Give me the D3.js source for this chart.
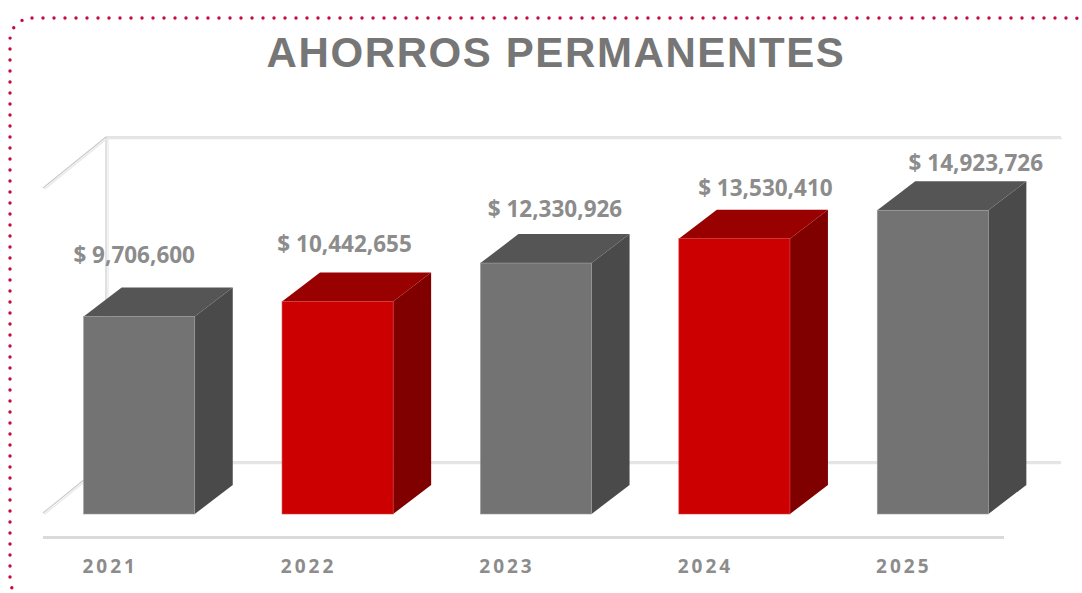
<!DOCTYPE html>
<html>
<head>
<meta charset="utf-8">
<script src="https://cdn.jsdelivr.net/npm/d3@7"></script>
<style>
  html, body { margin: 0; padding: 0; background: #ffffff; }
  svg { display: block; }
</style>
</head>
<body>
<svg id="chart" width="1082" height="593"></svg>
<script>
// ---------- DATA ----------
const title = "AHORROS PERMANENTES";
const categories = ["2021", "2022", "2023", "2024", "2025"];
const values = [9706600, 10442655, 12330926, 13530410, 14923726];
const valueLabels = ["$ 9,706,600", "$ 10,442,655", "$ 12,330,926", "$ 13,530,410", "$ 14,923,726"];
const barStyle = ["gray", "red", "gray", "red", "gray"];
const axisMax = 17100000;

// ---------- LAYOUT ----------
const W = 1082, H = 593;
const svg = d3.select("#chart");
const palette = {
  gray: { front: "#737373", top: "#555555", side: "#4a4a4a" },
  red:  { front: "#cc0000", top: "#990000", side: "#800000" }
};
const depthX = 38, depthY = -29;           // bar depth
const wallDX = 63, wallDY = -51;           // floor / left wall depth

const x = d3.scaleBand().domain(categories).range([40, 1032])
  .paddingInner(0.44).paddingOuter(0.22);
const y = d3.scaleLinear().domain([0, axisMax]).range([514, 166]);

// ---------- DOTTED FRAME ----------
svg.append("rect")
  .attr("x", 10).attr("y", 18).attr("width", 1086).attr("height", 583)
  .attr("rx", 22).attr("ry", 22)
  .attr("fill", "none").attr("stroke", "#c40a3e")
  .attr("stroke-width", 3.4).attr("stroke-linecap", "round")
  .attr("stroke-dasharray", "0 11");

// ---------- TITLE ----------
svg.append("text")
  .attr("x", 556).attr("y", 67)
  .attr("text-anchor", "middle")
  .attr("font-family", "'Liberation Sans', Arial, sans-serif")
  .attr("font-weight", 700).attr("font-size", 42)
  .attr("letter-spacing", 1.6)
  .attr("fill", "#767676")
  .text(title);

// ---------- WALLS / GRID ----------
const backTop = y(axisMax) + depthY;       // 137
const backBottom = 462;
const wallLeft = 106, wallRight = 1061;
const g = svg.append("g");

function dbl(x1, y1, x2, y2, ox, oy) {
  g.append("line").attr("x1", x1).attr("y1", y1).attr("x2", x2).attr("y2", y2)
    .attr("stroke", "#c9c9c9").attr("stroke-width", 1.1);
  g.append("line").attr("x1", x1 + ox).attr("y1", y1 + oy).attr("x2", x2 + ox).attr("y2", y2 + oy)
    .attr("stroke", "#e6e6e6").attr("stroke-width", 1.1);
}
// back wall top & bottom gridlines
dbl(wallLeft, backTop, wallRight, backTop, 1, 1.6);
dbl(wallLeft, backBottom, wallRight, backBottom, 0, 1.6);
// left back vertical edge
dbl(wallLeft, backTop, wallLeft, backBottom, 2, 1);
// left wall diagonals
dbl(wallLeft, backTop, wallLeft - wallDX, backTop - wallDY, 1.5, 1.2);
dbl(wallLeft, backBottom, wallLeft - wallDX, backBottom - wallDY, 1.5, 1.2);
// floor front edge (category axis line)
g.append("line").attr("x1", 43).attr("y1", 537.5).attr("x2", 1004).attr("y2", 537.5)
  .attr("stroke", "#dadada").attr("stroke-width", 3.2);

// ---------- BARS ----------
const bars = svg.append("g").selectAll("g.bar")
  .data(categories.map((c, i) => ({ c, v: values[i], s: barStyle[i], lab: valueLabels[i], i })))
  .join("g").attr("class", "bar");

bars.each(function(d) {
  const gb = d3.select(this);
  const x0 = x(d.c), x1 = x0 + x.bandwidth();
  const yt = y(d.v), yb = y(0);
  const col = palette[d.s];
  // side
  gb.append("path")
    .attr("d", `M${x1},${yt} L${x1 + depthX},${yt + depthY} L${x1 + depthX},${yb + depthY} L${x1},${yb} Z`)
    .attr("fill", col.side);
  // top
  gb.append("path")
    .attr("d", `M${x0},${yt} L${x0 + depthX},${yt + depthY} L${x1 + depthX},${yt + depthY} L${x1},${yt} Z`)
    .attr("fill", col.top);
  // front
  gb.append("rect")
    .attr("x", x0).attr("y", yt).attr("width", x.bandwidth()).attr("height", yb - yt)
    .attr("fill", col.front)
    .attr("stroke", d.s === "gray" ? "#9a9a9a" : "#d84040").attr("stroke-width", 0.6);
});

// value labels
svg.append("g").selectAll("text")
  .data(categories.map((c, i) => ({ c, v: values[i], lab: valueLabels[i], i })))
  .join("text")
  .attr("x", d => x(d.c) + x.bandwidth() / 2 + depthX / 2 + (d.i - 2) * 12)
  .attr("y", d => y(d.v) - 53 + 3.5 * d.i)
  .attr("text-anchor", "middle")
  .attr("font-family", "'Open Sans', sans-serif")
  .attr("font-weight", 700).attr("font-size", 22.5)
  .attr("fill", "#8c8c8c")
  .text(d => d.lab);

// category labels
svg.append("g").selectAll("text")
  .data(categories)
  .join("text")
  .attr("x", d => x(d) + x.bandwidth() / 2 - 29)
  .attr("y", 573)
  .attr("text-anchor", "middle")
  .attr("font-family", "'Open Sans', sans-serif")
  .attr("font-weight", 700).attr("font-size", 19)
  .attr("letter-spacing", 3)
  .attr("fill", "#8c8c8c")
  .text(d => d);
</script>
</body>
</html>
